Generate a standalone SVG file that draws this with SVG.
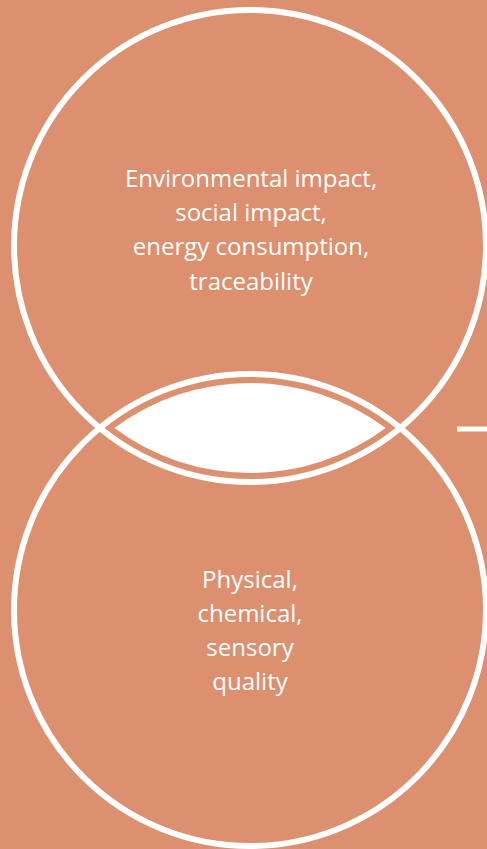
<svg xmlns="http://www.w3.org/2000/svg" width="487" height="849" viewBox="0 0 487 849">
  <style>
    .ring { fill: none; stroke: #ffffff; stroke-width: 6; }
    .lbl { fill: #ffffff; font-family: "Open Sans", "Noto Sans", "DejaVu Sans", sans-serif; font-size: 24px; text-anchor: middle; }
    .conn { stroke: #ffffff; stroke-width: 5; fill: none; }
  </style>
  <rect x="0" y="0" width="487" height="849" fill="#DC906F"/>
  <g id="node-sustainability">
    <circle class="ring" cx="250" cy="246" r="236"/>
    <text class="lbl" x="251" y="187">Environmental impact,</text>
    <text class="lbl" x="251" y="221">social impact,</text>
    <text class="lbl" x="251" y="255">energy consumption,</text>
    <text class="lbl" x="251" y="289.5">traceability</text>
  </g>
  <g id="node-quality">
    <circle class="ring" cx="250" cy="610" r="236"/>
    <text class="lbl" x="250" y="588">Physical,</text>
    <text class="lbl" x="250" y="622">chemical,</text>
    <text class="lbl" x="250" y="656">sensory</text>
    <text class="lbl" x="250" y="690">quality</text>
  </g>
  <g id="node-overlap">
    <path d="M 114.3 428 A 227 227 0 0 1 385.7 428 A 227 227 0 0 1 114.3 428 Z" fill="#ffffff"/>
  </g>
  <g id="connectors">
    <line class="conn" x1="457" y1="429" x2="487" y2="429"/>
  </g>
</svg>
